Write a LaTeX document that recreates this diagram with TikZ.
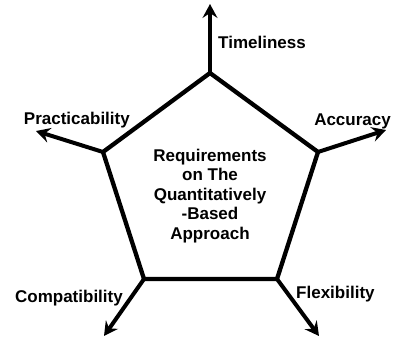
\documentclass[tikz,border=0pt]{standalone}
\usepackage{fontspec}
\setmainfont{Liberation Sans}
\usetikzlibrary{arrows.meta}
\begin{document}
\begin{tikzpicture}[x=1pt,y=-1pt,
  edge/.style={line width=4.3pt,line join=miter},
  spoke/.style={line width=4pt,-{Stealth[length=14pt,width=15pt,inset=5pt]}},
  lbl/.style={font=\bfseries\fontsize{17}{19}\selectfont,inner sep=0pt},
  centre/.style={font=\bfseries\fontsize{17}{19.5}\selectfont,align=center,inner sep=0pt}]
\useasboundingbox (0,0) rectangle (394,338);
% pentagon corners
\coordinate (top) at (210,73);
\coordinate (rgt) at (318,152);
\coordinate (br) at (277,279);
\coordinate (bl) at (144,279);
\coordinate (lft) at (103,152);
% outer ends of the spokes
\coordinate (topE) at (210,4);
\coordinate (rgtE) at (386,130);
\coordinate (brE) at (319,336);
\coordinate (blE) at (104,336);
\coordinate (lftE) at (36,131);
\draw[edge] (top) -- (rgt) -- (br) -- (bl) -- (lft) -- cycle;
\draw[spoke] (top) -- (topE);
\draw[spoke] (rgt) -- (rgtE);
\draw[spoke] (br) -- (brE);
\draw[spoke] (bl) -- (blE);
\draw[spoke] (lft) -- (lftE);
\node[lbl,anchor=west] (t) at (218,42) {Timeliness};
\node[lbl,anchor=east] (p) at (130,120) {Practicability};
\node[lbl,anchor=east] (a) at (391,121) {Accuracy};
\node[lbl,anchor=east] (c) at (123,298) {Compatibility};
\node[lbl,anchor=west] (f) at (296,294) {Flexibility};
\node[centre] (m) at (210,196) {Requirements\\on The\\Quantitatively\\-Based\\Approach};
\end{tikzpicture}
\end{document}
